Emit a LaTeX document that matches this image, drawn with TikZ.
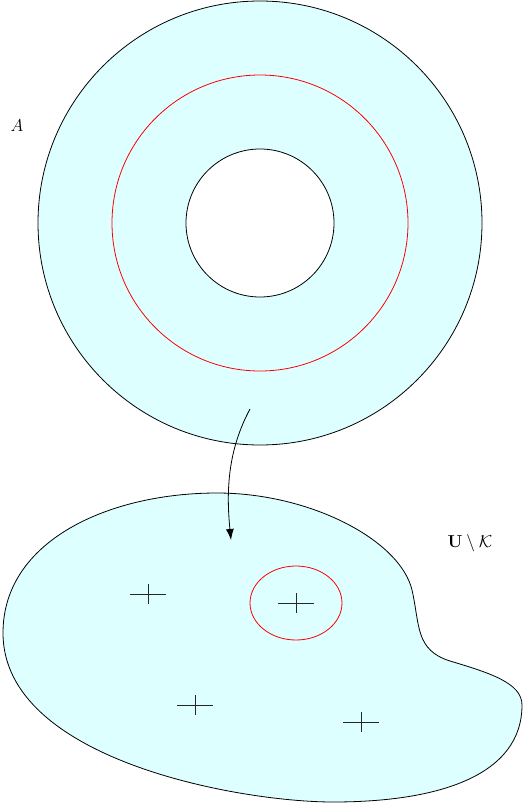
\documentclass[tikz,border=0pt]{standalone}
\usepackage{amsmath,amssymb}
\usetikzlibrary{arrows.meta}
\definecolor{fillc}{RGB}{221,255,255}
\tikzset{
  region/.style={draw=black, line width=0.8pt, fill=fillc},
  redline/.style={draw=red, line width=0.8pt},
  crossmark/.style={draw=black!85, line width=0.9pt},
  maparrow/.style={draw=black, line width=0.8pt, -{Latex[length=11pt,width=8pt]}},
  lbl/.style={font=\fontsize{18}{20}\selectfont, inner sep=0pt}
}
\newcommand{\crossat}[2]{\draw[crossmark] (#1-18,#2) -- (#1+18,#2) (#1,#2-10) -- (#1,#2+10);}
\begin{document}
\begin{tikzpicture}[x=1pt,y=-1pt]
\useasboundingbox (0,0) rectangle (524,806);
% annulus
\coordinate (c) at (260,223);
\path[region, even odd rule] (c) circle (222) (c) circle (74);
\draw[redline] (c) circle (148);
\node[lbl] (A) at (17,126) {$A$};
% blob
\path[region] (217,493) .. controls (310,493) and (400,540) .. (412,590)
  .. controls (420,625) and (415,650) .. (450,661)
  .. controls (490,673) and (522,683) .. (522,705)
  .. controls (522,775) and (440,802) .. (333,802)
  .. controls (240,802) and (3,760) .. (3,633)
  .. controls (3,540) and (110,493) .. (217,493) -- cycle;
\draw[redline] (296,603) ellipse (46 and 37);
\node[lbl] (UK) at (470,543) {$\mathbf{U}\setminus\mathcal{K}$};
\crossat{148}{594}
\crossat{195}{705}
\crossat{296}{603}
\crossat{361}{722}
% arrow
\coordinate (s) at (250,409);
\coordinate (e) at (231,540);
\draw[maparrow] (s) .. controls (228,450) and (226,490) .. (e);
\end{tikzpicture}
\end{document}
